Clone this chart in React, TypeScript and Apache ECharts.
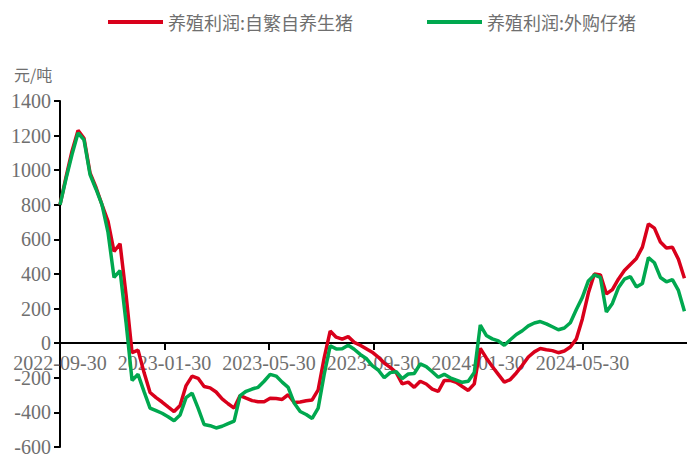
import React, { useEffect, useRef } from "react";
import * as echarts from "echarts";

const seriesNames = ["养殖利润:自繁自养生猪", "养殖利润:外购仔猪"];
const stepDays = 7; // weekly data starting 2022-09-30
const axisEndDays = 731; // 2022-09-30 -> 2024-09-30
const xTickLabels = ["2022-09-30", "2023-01-30", "2023-05-30", "2023-09-30", "2024-01-30", "2024-05-30", "2024-09-30"];
const yAxisUnit = "元/吨";

const selfBred = [
  800, 960, 1110, 1230, 1185, 985, 900, 800, 705, 530,
  575, 280, -55, -40, -170, -285, -315, -340, -368, -395,
  -360, -245, -190, -203, -250, -258, -282, -322, -350, -375,
  -303, -318, -332, -338, -338, -318, -320, -325, -298, -343,
  -340, -333, -328, -270, -85, 70, 35, 23, 38, 5,
  -12, -32, -52, -80, -115, -140, -170, -235, -225, -255,
  -220, -236, -265, -279, -215, -215, -226, -250, -273, -235,
  -30, -85, -135, -180, -225, -210, -172, -128, -80, -50,
  -31, -38, -43, -55, -45, -22, 25, 140, 290, 400,
  395, 285, 310, 370, 420, 455, 490, 555, 690, 665,
  585, 550, 555, 485, 375,
];

const purchased = [
  800, 950, 1090, 1215, 1175, 975, 890, 800, 640, 380,
  420, 120, -215, -180, -280, -375, -390, -405, -425, -448,
  -415, -315, -288, -375, -470, -477, -490, -480, -465, -450,
  -303, -278, -265, -255, -220, -180, -190, -225, -255, -345,
  -395, -412, -435, -375, -180, -15, -33, -32, -12, -35,
  -65, -88, -130, -155, -200, -170, -165, -205, -178, -175,
  -120, -135, -165, -197, -180, -200, -213, -226, -220, -170,
  105, 45, 25, 13, -12, 20, 50, 72, 100, 117,
  125, 112, 95, 78, 88, 118, 195, 265, 360, 395,
  380, 180, 230, 320, 370, 385, 325, 345, 495, 465,
  380, 355, 368, 305, 185,
];

const colors = ["#d9001b", "#00a84f"];
const textGray = "#6f6f6f";
const serifFont = "Liberation Serif, Times New Roman, serif";
const cjkFont = "Noto Sans CJK SC, sans-serif";

function toPairs(values: number[]) {
  return values.map((v, i) => [i * stepDays, v]);
}

export default function App() {
  const ref = useRef<HTMLDivElement>(null);
  useEffect(() => {
    if (!ref.current) return;
    const chart = echarts.init(ref.current, undefined, { renderer: "svg" });
    const interval = axisEndDays / (xTickLabels.length - 1);
    const yMin = -600;
    const yMax = 1400;
    const gridTop = 101;
    const gridBottom = 9;
    const plotH = 457 - gridTop - gridBottom;
    const zeroOffset = (plotH * (0 - yMin)) / (yMax - yMin);
    chart.setOption({
      animation: false,
      legend: {
        top: 8,
        left: 103,
        icon: "rect",
        itemWidth: 55,
        itemHeight: 4,
        itemGap: 74,
        textStyle: { fontSize: 18, color: textGray, fontFamily: cjkFont },
        data: seriesNames,
      },
      graphic: [
        {
          type: "text",
          left: 14,
          top: 66,
          style: { text: yAxisUnit, fontSize: 16, fill: textGray, fontFamily: cjkFont },
        },
      ],
      grid: { left: 60, right: 0, top: gridTop, bottom: gridBottom, containLabel: false },
      xAxis: {
        type: "value",
        min: 0,
        max: axisEndDays,
        interval,
        offset: -zeroOffset,
        splitLine: { show: false },
        axisLine: { onZero: false, lineStyle: { color: "#000", width: 2 } },
        axisTick: { show: true, length: 7, lineStyle: { color: "#000", width: 2 } },
        axisLabel: {
          showMaxLabel: false,
          showMinLabel: true,
          margin: 10,
          fontSize: 20,
          color: textGray,
          fontFamily: serifFont,
          formatter: (v: number) => xTickLabels[Math.round(v / interval)] ?? "",
        },
      },
      yAxis: {
        type: "value",
        min: yMin,
        max: yMax,
        interval: 200,
        splitLine: { show: false },
        axisLine: { show: true, onZero: false, lineStyle: { color: "#000", width: 2 } },
        axisTick: { show: true, length: 6, lineStyle: { color: "#000", width: 2 } },
        axisLabel: {
          margin: 9,
          fontSize: 20,
          color: textGray,
          fontFamily: serifFont,
          formatter: (v: number) => String(v),
        },
      },
      series: [
        {
          name: seriesNames[0],
          type: "line",
          data: toPairs(selfBred),
          showSymbol: false,
          symbol: "none",
          lineStyle: { width: 3.5, color: colors[0] },
          itemStyle: { color: colors[0] },
          z: 3,
        },
        {
          name: seriesNames[1],
          type: "line",
          data: toPairs(purchased),
          showSymbol: false,
          symbol: "none",
          lineStyle: { width: 3.5, color: colors[1] },
          itemStyle: { color: colors[1] },
          z: 4,
        },
      ],
    });
    return () => chart.dispose();
  }, []);
  return (
    <div
      ref={ref}
      style={{ position: "fixed", left: 0, top: 0, width: 687, height: 457, background: "#fff" }}
    />
  );
}
